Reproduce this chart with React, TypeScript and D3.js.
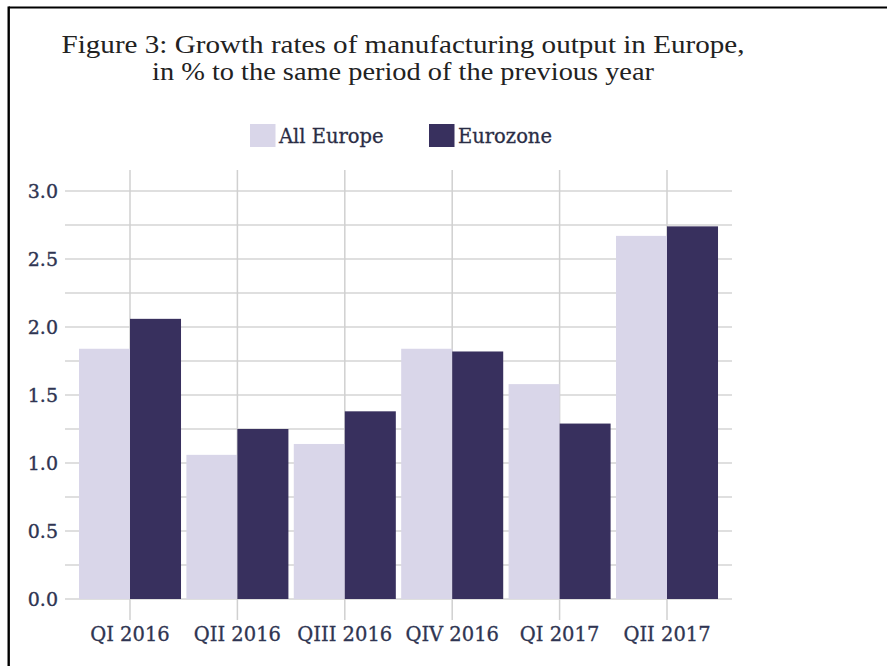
import React from "react";
import * as d3 from "d3";

const categories = ["QI 2016", "QII 2016", "QIII 2016", "QIV 2016", "QI 2017", "QII 2017"];
const seriesNames = ["All Europe", "Eurozone"];
const allEurope = [1.84, 1.06, 1.14, 1.84, 1.58, 2.67];
const eurozone = [2.06, 1.25, 1.38, 1.82, 1.29, 2.74];
const yTicks = [0, 0.5, 1.0, 1.5, 2.0, 2.5, 3.0];
const titleLines = [
  "Figure 3: Growth rates of manufacturing output in Europe,",
  "in % to the same period of the previous year",
];
const titleWidths = [683, 502];
const colors = ["#d9d6e9", "#38305e"];

export default function App() {
  const W = 887, H = 666;
  const x = d3.scaleBand<string>().domain(categories).range([76.3, 720.7]).paddingInner(0.05).paddingOuter(0.025);
  const sub = d3.scaleBand<string>().domain(seriesNames).range([0, x.bandwidth()]);
  const y = d3.scaleLinear().domain([0, 3]).range([599, 191]);
  const minor = d3.range(0, 3.0001, 0.25);
  const series = [allEurope, eurozone];
  const tickColor = "#2f3552";
  const serif = "'DejaVu Serif', serif";

  return (
    <svg width={W} height={H} style={{ position: "absolute", left: 0, top: 0, background: "#fff" }}>
      <rect x={0} y={0} width={W} height={H} fill="#fff" />
      {/* border */}
      <line x1={8.7} y1={7.5} x2={W} y2={7.5} stroke="#000" strokeWidth={2.2} />
      <line x1={8.7} y1={6.5} x2={8.7} y2={H} stroke="#000" strokeWidth={2.4} />

      {/* title */}
      {titleLines.map((t, i) => (
        <text key={i} x={403} y={53 + i * 27} textAnchor="middle" fontFamily="'Liberation Serif', serif" fontSize={24.5}
          textLength={titleWidths[i]} lengthAdjust="spacingAndGlyphs" fill="#222">
          {t}
        </text>
      ))}

      {/* legend */}
      {seriesNames.map((s, i) => {
        const lx = [250, 429][i];
        return (
          <g key={s}>
            <rect x={lx} y={124} width={25.5} height={23} fill={colors[i]} />
            <text x={lx + 29} y={142.5} fontFamily={serif} fontSize={19.5} fill="#2a2d45" stroke="#2a2d45" strokeWidth={0.3}>{s}</text>
          </g>
        );
      })}

      {/* gridlines */}
      {minor.map((v) => (
        <line key={v} x1={65} x2={732} y1={y(v)} y2={y(v)} stroke="#d4d4d4" strokeWidth={1.5} />
      ))}
      {categories.map((c) => {
        const cx = (x(c) as number) + x.bandwidth() / 2;
        return <line key={c} x1={cx} x2={cx} y1={170} y2={620} stroke="#d0d0d0" strokeWidth={1.5} />;
      })}

      {/* bars */}
      {series.map((vals, si) =>
        categories.map((c, ci) => (
          <rect
            key={`${si}-${ci}`}
            x={(x(c) as number) + (sub(seriesNames[si]) as number)}
            y={y(vals[ci])}
            width={sub.bandwidth()}
            height={y(0) - y(vals[ci])}
            fill={colors[si]}
          />
        ))
      )}

      {/* y labels */}
      {yTicks.map((v) => (
        <text key={v} x={58} y={y(v) + 6.5} textAnchor="end" fontFamily={serif} fontSize={19} fill={tickColor} stroke={tickColor} strokeWidth={0.35}>
          {d3.format(".1f")(v)}
        </text>
      ))}

      {/* x labels */}
      {categories.map((c) => (
        <text key={c} x={(x(c) as number) + x.bandwidth() / 2} y={641} textAnchor="middle" fontFamily={serif} fontSize={19.5} fill={tickColor} stroke={tickColor} strokeWidth={0.3}>
          {c}
        </text>
      ))}
    </svg>
  );
}
